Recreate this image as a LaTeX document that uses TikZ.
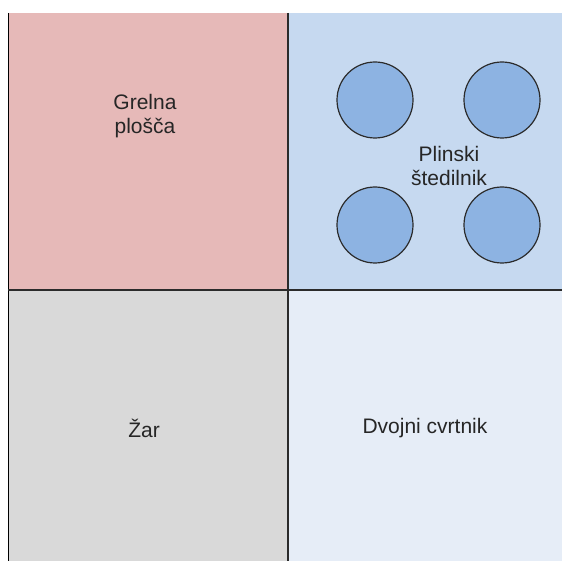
\documentclass[tikz,border=0pt]{standalone}
\usepackage{fontspec}
\setmainfont{Liberation Sans}
\definecolor{pinkq}{HTML}{E6B9B8}
\definecolor{blueq}{HTML}{C6D9F0}
\definecolor{grayq}{HTML}{D9D9D9}
\definecolor{lightq}{HTML}{E6EDF7}
\definecolor{burner}{HTML}{8DB3E2}
\definecolor{edgec}{HTML}{2B2B2B}
\begin{document}
\begin{tikzpicture}[x=1pt,y=-1pt,
  lbl/.style={font=\fontsize{21}{24.5}\selectfont, align=center, text=black!85, inner sep=0pt},
  burnerc/.style={circle, draw=edgec, line width=1.2pt, fill=burner, minimum size=76pt, inner sep=0pt},
  divider/.style={draw=edgec, line width=1.5pt}]
\useasboundingbox (0,0) rectangle (562,561);
\fill[white] (0,0) rectangle (562,561);
% quadrants
\fill[pinkq] (8,13) rectangle (288,290);
\fill[blueq] (288,13) rectangle (562,290);
\fill[grayq] (8,290) rectangle (288,561);
\fill[lightq] (288,290) rectangle (562,561);
\coordinate (tl) at (8.5,13);
\coordinate (bl) at (8.5,561);
\coordinate (vt) at (288,13);
\coordinate (vb) at (288,561);
\coordinate (hl) at (8,290);
\coordinate (hr) at (562,290);
\draw[divider, draw=black] (tl) -- (bl);
\draw[divider] (vt) -- (vb);
\draw[divider] (hl) -- (hr);
% burners
\node[burnerc] (b1) at (375,100) {};
\node[burnerc] (b2) at (502,100) {};
\node[burnerc] (b3) at (375,225) {};
\node[burnerc] (b4) at (502,225) {};
% labels
\node[lbl] (grelna) at (145,116) {Grelna\\plošča};
\node[lbl] (plin) at (449,166) {Plinski\\štedilnik};
\node[lbl, anchor=base] (zar) at (144,437) {Žar};
\node[lbl, anchor=base] (cvrt) at (425,433) {Dvojni cvrtnik};
\end{tikzpicture}
\end{document}
